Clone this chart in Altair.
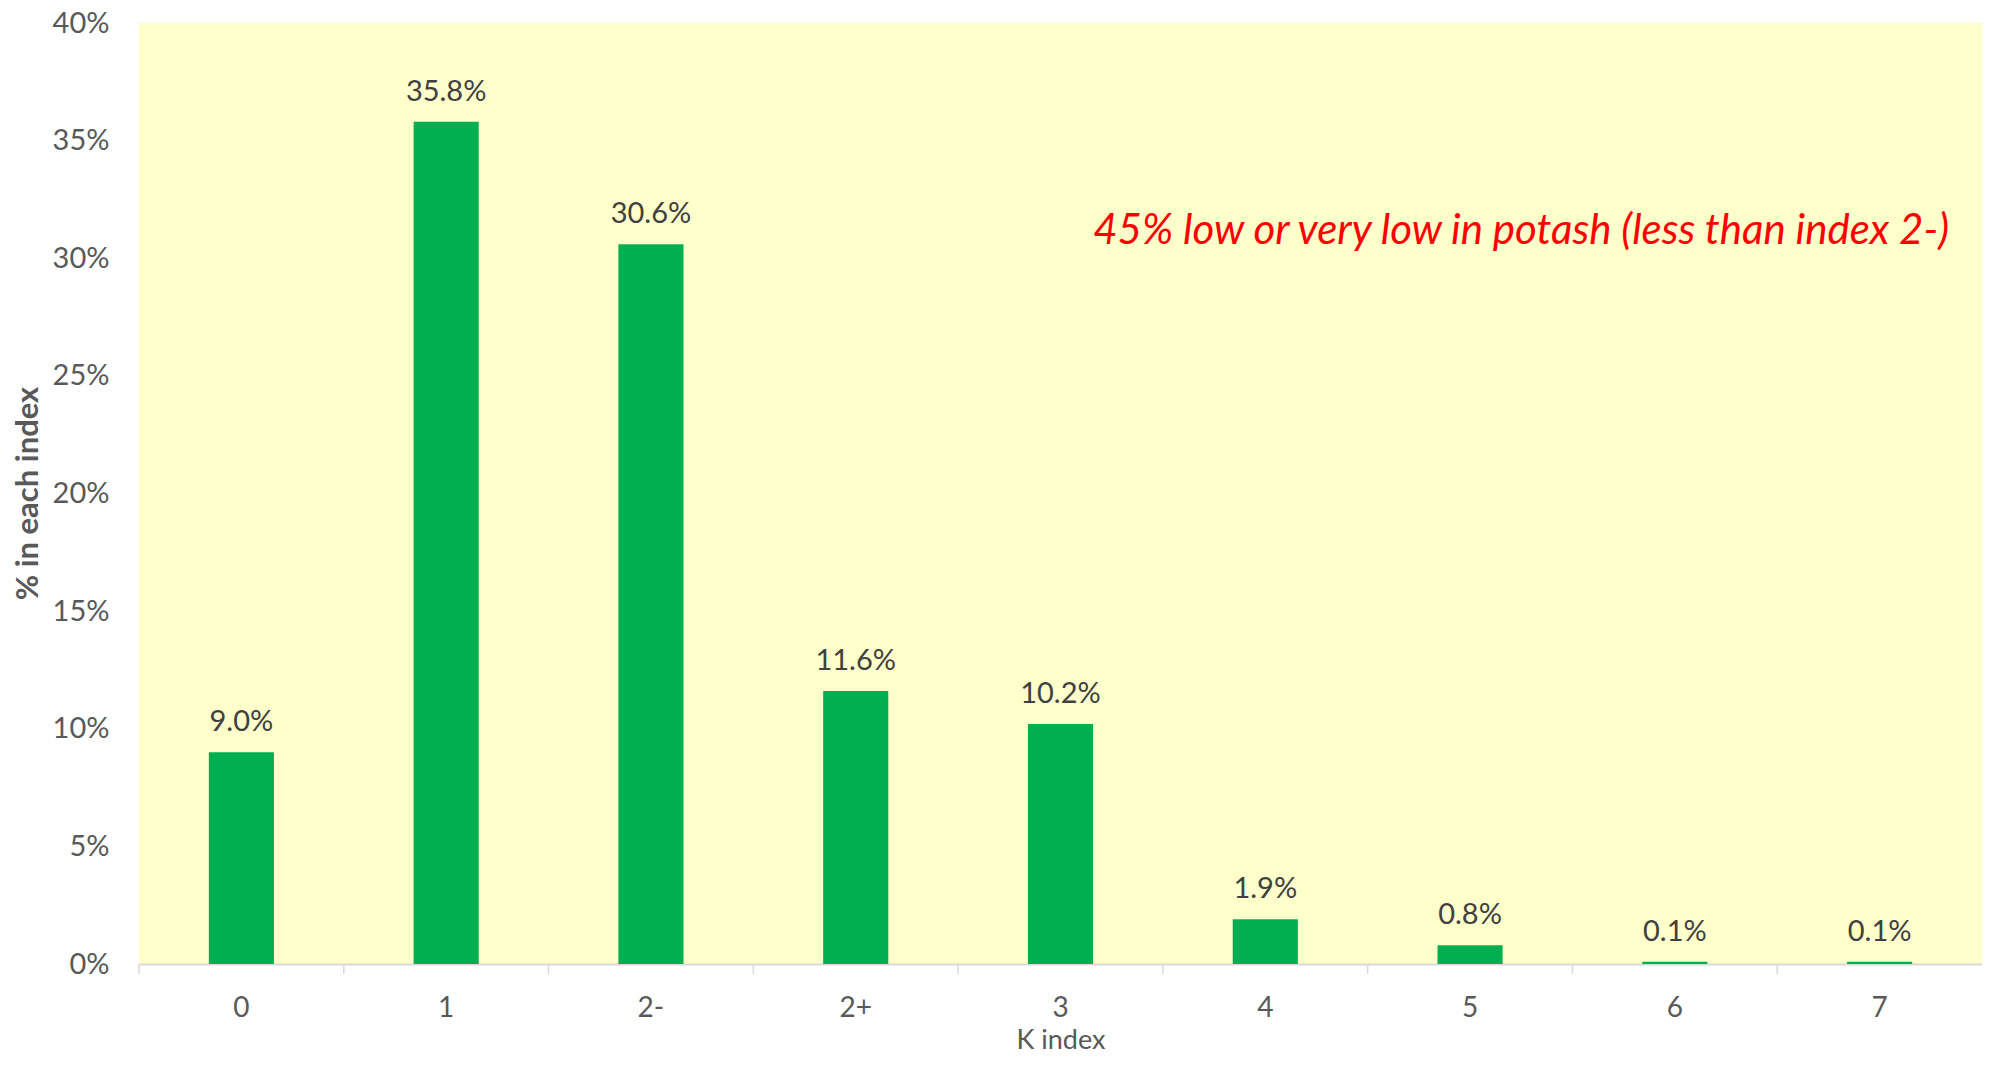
import altair as alt
import pandas as pd

categories = ["0", "1", "2-", "2+", "3", "4", "5", "6", "7"]
values = [0.090, 0.358, 0.306, 0.116, 0.102, 0.019, 0.008, 0.001, 0.001]
annotation = "45% low or very low in potash (less than index 2-)"

df = pd.DataFrame({"cat": categories, "val": values})

W, H = 1843, 941
FONT = "Lato"
GREY = "#595959"

xscale = alt.Scale(domain=categories, paddingInner=0, paddingOuter=0)
yscale = alt.Scale(domain=[0, 0.4], nice=False)

bars = alt.Chart(df).mark_bar(color="#00B050", width=alt.RelativeBandSize(0.318)).encode(
    x=alt.X("cat:N", sort=categories, scale=xscale,
            axis=alt.Axis(title="K index", labelAngle=0, ticks=False,
                          domainColor="#D9D9D9", domainWidth=2,
                          labelFont=FONT, labelFontSize=28, labelColor=GREY,
                          labelBaseline="alphabetic", labelPadding=52,
                          titleFont=FONT, titleFontSize=27, titleColor=GREY,
                          titleFontWeight="normal", titleBaseline="alphabetic",
                          titleY=84)),
    y=alt.Y("val:Q", scale=yscale,
            axis=alt.Axis(title="% in each index", format=".0%", values=[0, 0.05, 0.1, 0.15, 0.2, 0.25, 0.3, 0.35, 0.4],
                          domain=False, ticks=False, grid=False,
                          labelFont=FONT, labelFontSize=29, labelColor=GREY,
                          labelPadding=30, labelBaseline="middle",
                          titleFont=FONT, titleFontSize=31, titleColor=GREY,
                          titleFontWeight="bold", titleAngle=-90,
                          titleX=-111, titleY=470, titleBaseline="middle",
                          titleAlign="center")),
)

labels = alt.Chart(df).mark_text(font=FONT, fontSize=29, color="#404040",
                                 baseline="alphabetic", dy=-21).encode(
    x=alt.X("cat:N", sort=categories, scale=xscale),
    y=alt.Y("val:Q", scale=yscale),
    text=alt.Text("val:Q", format=".1%"),
)

tick_df = pd.DataFrame({"cat": categories})
ticks = alt.Chart(tick_df).mark_rule(color="#D9D9D9", strokeWidth=1.5).encode(
    x=alt.X("cat:N", sort=categories, scale=xscale, bandPosition=0),
    y=alt.value(H),
    y2=alt.value(H + 10),
)

note = alt.Chart(pd.DataFrame({"t": [annotation]})).mark_text(
    font=FONT, fontSize=42, fontStyle="italic", color="#FF0000",
    align="right", baseline="alphabetic").encode(
    x=alt.value(1810), y=alt.value(221), text="t:N")

chart = alt.layer(bars, labels, ticks, note).properties(
    width=W, height=H,
    autosize=alt.AutoSizeParams(type="none"),
    padding={"left": 131, "top": 15, "right": 0, "bottom": 88},
).configure_view(fill="#FFFFCC", stroke=None)

chart.save("out.html", embed_options={"renderer": "svg", "actions": False})
